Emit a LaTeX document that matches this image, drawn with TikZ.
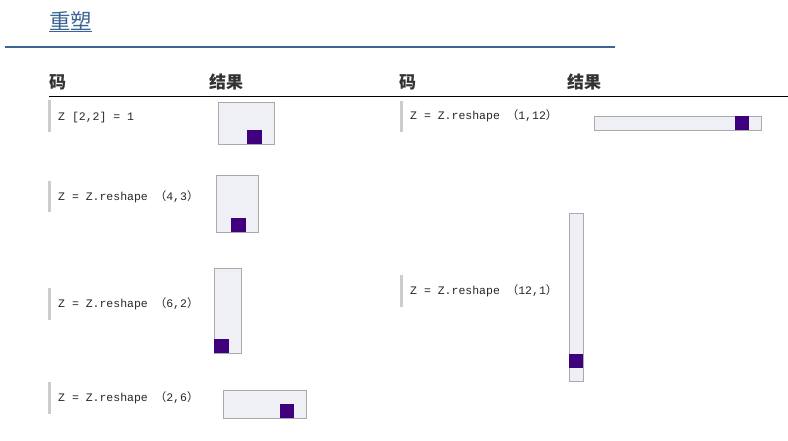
\documentclass[tikz,border=0pt]{standalone}
\usepackage{fontspec}
\newfontfamily\cjk{Noto Sans CJK SC}
\newfontfamily\codefont{Liberation Mono}
\definecolor{titleblue}{HTML}{3A6594}
\definecolor{cellfill}{HTML}{EFEFF6}
\definecolor{cellline}{HTML}{AAAAAA}
\definecolor{hot}{HTML}{3F007D}
\definecolor{barc}{HTML}{CCCCCC}
\definecolor{headc}{HTML}{333333}
\newcommand{\lp}{{\cjk （}}
\newcommand{\rp}{{\cjk ）}}
\begin{document}
\begin{tikzpicture}[x=1pt,y=-1pt,
  code/.style={anchor=west,inner sep=0pt,text height=8pt,text depth=2pt,font=\codefont\fontsize{11.5}{13}\selectfont,text=black!85},
  head/.style={anchor=west,inner sep=0pt,font=\cjk\bfseries\fontsize{17}{19}\selectfont,text=headc},
  cell/.style={fill=cellfill,draw=cellline,line width=0.8pt},
  hotc/.style={fill=hot},
  bar/.style={fill=barc}]
\useasboundingbox (0,0) rectangle (788,440);
% title
\node[anchor=west,inner sep=0pt,font=\cjk\fontsize{21.5}{23}\selectfont,text=titleblue] (title) at (49,21) {重塑};
\draw[titleblue,line width=0.6pt] (title.west |- 0,31.5) -- (title.east |- 0,31.5);
\draw[titleblue,line width=2pt] (5,47) -- (615,47);
% headers
\node[head] (h1) at (49,82) {码};
\node[head] (h2) at (209,82) {结果};
\node[head] (h3) at (399,82) {码};
\node[head] (h4) at (567,82) {结果};
\draw[black,line width=1pt] (49,96) -- (788,96);
% row 1 left
\fill[bar] (48,100) rectangle (51,132);
\node[code] (c1) at (58,117) {Z [2,2] = 1};
\draw[cell] (218,102) rectangle (274,144);
\fill[hotc] (247,130) rectangle (262,144);
% row 2 left
\fill[bar] (48,181) rectangle (51,212);
\node[code] (c2) at (58,197) {Z = Z.reshape \lp4,3\rp};
\draw[cell] (216,175) rectangle (258,232);
\fill[hotc] (231,218) rectangle (246,232);
% row 3 left
\fill[bar] (48,288) rectangle (51,320);
\node[code] (c3) at (58,304) {Z = Z.reshape \lp6,2\rp};
\draw[cell] (214,268) rectangle (241,353);
\fill[hotc] (214,339) rectangle (229,353);
% row 4 left
\fill[bar] (48,382) rectangle (51,414);
\node[code] (c4) at (58,398) {Z = Z.reshape \lp2,6\rp};
\draw[cell] (223,390) rectangle (306,418);
\fill[hotc] (280,404) rectangle (294,418);
% row 1 right
\fill[bar] (400,101) rectangle (403,132);
\node[code] (c5) at (410,116) {Z = Z.reshape \lp1,12\rp};
\draw[cell] (594,116) rectangle (761,130);
\fill[hotc] (735,116) rectangle (749,130);
% row 2 right
\fill[bar] (400,275) rectangle (403,307);
\node[code] (c6) at (410,291) {Z = Z.reshape \lp12,1\rp};
\draw[cell] (569,213) rectangle (583,381);
\fill[hotc] (569,354) rectangle (583,368);
\end{tikzpicture}
\end{document}
